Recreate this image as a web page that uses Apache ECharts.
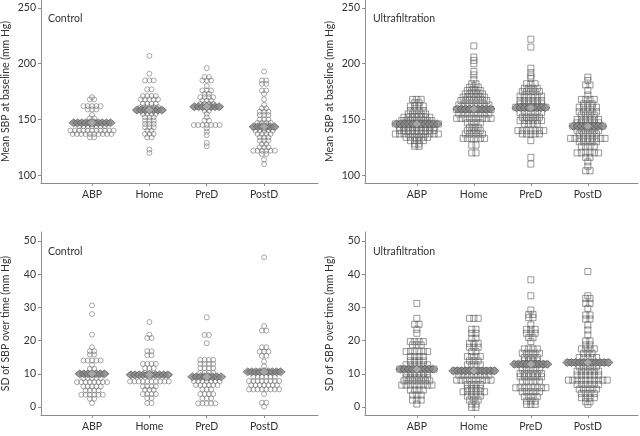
<!DOCTYPE html>
<html><head><meta charset="utf-8">
<script src="https://cdn.jsdelivr.net/npm/echarts@6/dist/echarts.min.js"></script>
<style>html,body{margin:0;padding:0;background:#fff}#c{width:640px;height:436px}</style>
</head><body><div id="c"></div>
<script>
const categories = ['ABP', 'Home', 'PreD', 'PostD'];
const sbpTicks = [100, 150, 200, 250];
const sdTicks = [0, 10, 20, 30, 40, 50];

// Dot-plot rows: [value, number of patients in that bin]
// Control, mean SBP at baseline
const ctrlSbpABP = [[170,1],[168,2],[162,5],[159,3],[154,1],[151,2],[147,9],[144,7],[140,11],[137,10],[134,2]];
const ctrlSbpHome = [[207,1],[191,1],[185,3],[177,2],[171,4],[168,5],[164,4],[161,5],[158,7],[155,4],[152,3],[149,3],[146,3],[143,3],[140,2],[137,3],[134,2],[123,1],[120,1]];
const ctrlSbpPreD = [[196,1],[188,2],[185,3],[180,1],[176,3],[173,2],[170,4],[167,3],[164,4],[161,7],[158,2],[155,1],[152,1],[149,2],[145,7],[142,1],[139,1],[136,1],[129,1],[126,1]];
const ctrlSbpPostD = [[193,1],[185,2],[182,2],[176,2],[173,1],[168,1],[163,1],[160,2],[157,3],[154,3],[150,3],[147,4],[143,6],[140,5],[137,4],[134,3],[131,3],[128,2],[125,3],[122,6],[119,2],[114,1],[110,1]];
// Ultrafiltration, mean SBP at baseline
const ufSbpABP = [[168,3],[165,2],[162,4],[158,4],[155,5],[152,7],[149,8],[146,11],[143,9],[140,9],[137,11],[134,6],[131,4],[128,2],[126,2]];
const ufSbpHome = [[216,1],[206,1],[203,1],[200,1],[193,1],[190,1],[186,1],[182,2],[179,3],[176,4],[173,5],[170,6],[167,7],[163,8],[159,9],[155,8],[151,9],[147,4],[143,3],[140,4],[137,5],[133,6],[127,2],[120,2]];
const ufSbpPreD = [[222,1],[215,1],[196,1],[192,1],[189,1],[187,1],[182,3],[178,4],[175,5],[171,6],[167,6],[164,6],[161,8],[156,6],[152,5],[149,6],[146,4],[140,7],[137,5],[131,1],[116,1],[110,1]];
const ufSbpPostD = [[188,1],[185,1],[181,2],[176,1],[172,1],[168,4],[164,3],[161,5],[157,5],[154,4],[150,6],[147,6],[144,8],[140,6],[137,5],[133,9],[130,5],[126,4],[120,6],[116,2],[112,1],[108,1],[104,2]];
// Control, SD of SBP over time
const ctrlSdABP = [[30.6,1],[28,1],[21.8,1],[18,1],[16.8,2],[15.8,2],[14,5],[12.7,1],[11.5,2],[10,7],[8.7,5],[7.5,8],[6.2,5],[5,4],[3.7,6],[2.5,2],[1.2,1]];
const ctrlSdHome = [[25.6,1],[21.8,1],[20.8,2],[16.8,2],[15.6,2],[13,4],[11.7,3],[9.7,10],[7.7,10],[6.2,4],[5.2,3],[3.9,4],[2.7,2],[1.2,2]];
const ctrlSdPreD = [[27,1],[21.7,2],[19.2,1],[14.2,4],[13,4],[11.7,4],[10.3,4],[9.1,6],[7.8,7],[6.6,6],[5.3,3],[3.9,4],[2.6,3],[1.1,5]];
const ctrlSdPostD = [[45.1,1],[24.4,1],[23,2],[18,2],[16.7,3],[15.4,2],[13.7,1],[12.3,1],[10.6,8],[9.1,6],[7.8,8],[6.6,7],[5.3,8],[3.9,1],[1.3,2],[0.1,1]];
// Ultrafiltration, SD of SBP over time
const ufSdABP = [[31.2,1],[26.7,1],[24.9,2],[23.4,1],[22.2,1],[19.7,4],[18.7,3],[16.7,6],[15.2,4],[13.9,4],[12.7,6],[11.4,9],[10.1,6],[8.8,6],[7.9,7],[6.6,8],[5.1,4],[3.6,3],[2.1,3],[0.9,1]];
const ufSdHome = [[26.7,3],[23.4,2],[22.2,2],[20.7,2],[19.2,3],[18,3],[16.7,2],[15.2,4],[13.9,3],[12.7,4],[10.9,10],[9.6,8],[8.1,9],[6.8,4],[5.6,4],[4.6,6],[3.3,4],[2.1,3],[0.9,2],[-0.1,2]];
const ufSdPreD = [[38.3,1],[33.5,1],[29.2,1],[27.9,2],[26.9,2],[24.7,1],[23.4,3],[22.2,3],[20.9,2],[19.7,1],[17.5,4],[16.2,5],[14.9,4],[13.9,4],[12.9,8],[11.4,5],[10.1,6],[9.1,6],[7.8,5],[5.8,8],[4.6,5],[3.1,4],[1.8,3],[0.8,3]];
const ufSdPostD = [[40.8,1],[33.5,1],[32.7,2],[31.2,2],[29.7,1],[27.7,2],[26.5,2],[24.7,1],[23.2,1],[21.7,1],[19.9,2],[18.7,2],[17.5,4],[16.2,3],[14.9,5],[13.4,10],[12.1,5],[10.8,6],[9.6,6],[8.1,10],[6.8,6],[5.4,5],[4.1,4],[2.8,4],[1.6,2],[0.8,1]];

// Group means (diamond rows) and number of diamond marks in each row
const ctrlSbpMean = [147, 158.5, 161.5, 143.5];
const ufSbpMean = [146, 159.5, 160.5, 144];
const ctrlSdMean = [10, 9.7, 9.1, 10.6];
const ufSdMean = [11.4, 10.9, 12.9, 13.4];
const ctrlSbpMarks = [10, 7, 7, 6];
const ufSbpMarks = [11, 9, 8, 8];
const ctrlSdMarks = [7, 10, 8, 9];
const ufSdMarks = [9, 11, 9, 11];

const FONT = 'Lato';
const TXT = '#333';
const AX = '#8c8c8c';

const panels = [
  {groups:[ctrlSbpABP,ctrlSbpHome,ctrlSbpPreD,ctrlSbpPostD], means:ctrlSbpMean, marks:ctrlSbpMarks, label:'Control',
   yName:'Mean SBP at baseline (mm Hg)', yMin:93, yMax:257.2, yTicks:sbpTicks, grid:{left:41,top:0,width:277,height:183}, xMin:0.11, xMax:4.94, sym:'circle'},
  {groups:[ufSbpABP,ufSbpHome,ufSbpPreD,ufSbpPostD], means:ufSbpMean, marks:ufSbpMarks, label:'Ultrafiltration',
   yName:'Mean SBP at baseline (mm Hg)', yMin:93, yMax:257.2, yTicks:sbpTicks, grid:{left:365,top:0,width:273,height:183}, xMin:0.09, xMax:4.88, sym:'rect'},
  {groups:[ctrlSdABP,ctrlSdHome,ctrlSdPreD,ctrlSdPostD], means:ctrlSdMean, marks:ctrlSdMarks, label:'Control',
   yName:'SD of SBP over time (mm Hg)', yMin:-2.4, yMax:52.7, yTicks:sdTicks, grid:{left:41,top:232,width:277,height:183}, xMin:0.11, xMax:4.94, sym:'circle'},
  {groups:[ufSdABP,ufSdHome,ufSdPreD,ufSdPostD], means:ufSdMean, marks:ufSdMarks, label:'Ultrafiltration',
   yName:'SD of SBP over time (mm Hg)', yMin:-2.4, yMax:52.7, yTicks:sdTicks, grid:{left:365,top:232,width:273,height:183}, xMin:0.09, xMax:4.88, sym:'rect'}
];

const grids = [], xAxes = [], yAxes = [], series = [], graphics = [];
panels.forEach((p, pi) => {
  grids.push(Object.assign({outerBoundsMode:'none', containLabel:false}, p.grid));
  const pxPerUnit = p.grid.width / (p.xMax - p.xMin);
  const dotDx = 4.3 / pxPerUnit;
  const diaDx = 4.1 / pxPerUnit;
  xAxes.push({
    type:'value', gridIndex:pi, min:p.xMin, max:p.xMax,
    axisLine:{show:true, onZero:false, lineStyle:{color:AX, width:1}},
    axisTick:{show:true, length:3, customValues:[1,2,3,4], lineStyle:{color:AX}},
    axisLabel:{show:true, customValues:[1,2,3,4], margin:6, fontFamily:FONT, fontSize:10.5, color:TXT,
      formatter:v => categories[Math.round(v)-1] || ''},
    splitLine:{show:false}
  });
  yAxes.push({
    type:'value', gridIndex:pi, min:p.yMin, max:p.yMax,
    name:p.yName, nameLocation:'middle', nameGap:30,
    nameTextStyle:{fontFamily:FONT, fontSize:10.5, color:TXT},
    axisLine:{show:true, onZero:false, lineStyle:{color:AX, width:1}},
    axisTick:{show:true, length:3, customValues:p.yTicks, lineStyle:{color:AX}},
    axisLabel:{show:true, customValues:p.yTicks, margin:5, fontFamily:FONT, fontSize:10.5, color:TXT},
    splitLine:{show:false}
  });
  const pts = [];
  p.groups.forEach((rows, gi) => {
    const cat = gi + 1;
    rows.forEach(([v, n]) => {
      for (let j = 0; j < n; j++) pts.push([cat + (j - (n - 1) / 2) * dotDx, v]);
    });
  });
  series.push({
    type:'scatter', xAxisIndex:pi, yAxisIndex:pi, data:pts, silent:true,
    symbol:p.sym, symbolSize:p.sym === 'circle' ? 5 : 6,
    itemStyle:{color:'rgba(255,255,255,0)', borderColor:p.sym === 'circle' ? '#777' : '#606060', borderWidth:0.8},
    z:2
  });
  const dia = [], centers = [];
  p.means.forEach((m, gi) => {
    const cat = gi + 1, k = p.marks[gi];
    for (let j = 0; j < k; j++) dia.push([cat + (j - (k - 1) / 2) * diaDx, m]);
    centers.push([cat, m]);
  });
  series.push({
    type:'scatter', xAxisIndex:pi, yAxisIndex:pi, data:dia, silent:true,
    symbol:'diamond', symbolSize:[9.5, 8],
    itemStyle:{color:'#868686', borderColor:'#505050', borderWidth:0.7}, z:3
  });
  series.push({
    type:'scatter', xAxisIndex:pi, yAxisIndex:pi, data:centers, silent:true,
    symbol:'diamond', symbolSize:[9.5, 8],
    itemStyle:{color:'#b0b0b0', borderColor:'#666', borderWidth:0.7}, z:4
  });
  graphics.push({
    type:'text', left:p.grid.left + (pi % 2 === 0 ? 7 : 8), top:p.grid.top + (pi < 2 ? 13 : 14),
    style:{text:p.label, font:'10.5px ' + FONT, fill:TXT}
  });
});

const chart = echarts.init(document.getElementById('c'), null, {renderer:'canvas'});
chart.setOption({
  animation:false,
  backgroundColor:'#fff',
  grid:grids, xAxis:xAxes, yAxis:yAxes, series:series, graphic:graphics
});
</script></body></html>
